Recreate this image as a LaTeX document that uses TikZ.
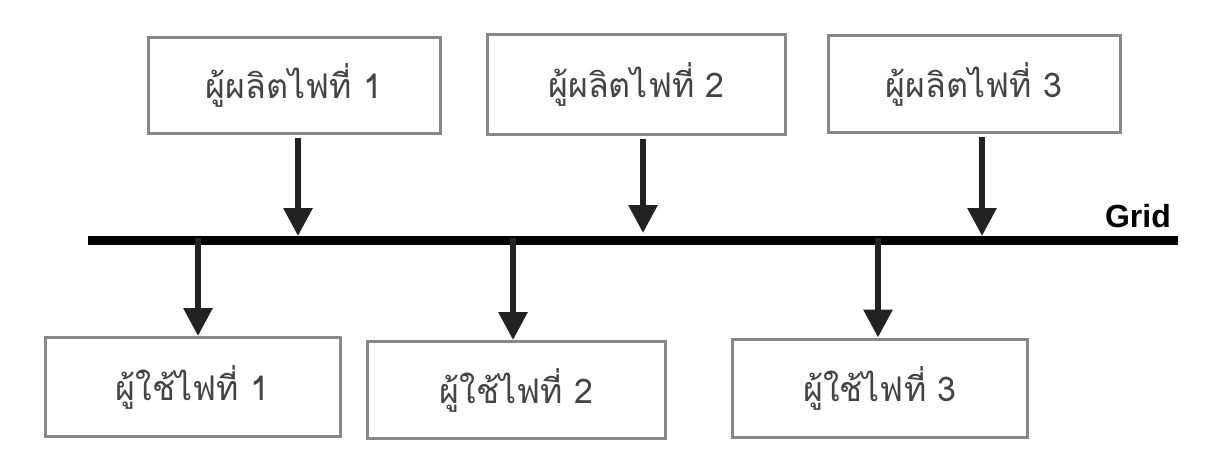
\documentclass[tikz,border=0pt]{standalone}
\usepackage{fontspec}
\setmainfont{Liberation Sans}
\newfontfamily\thaifont[Script=Thai]{Loma}
\usetikzlibrary{arrows.meta}
\definecolor{boxgray}{HTML}{888888}
\definecolor{txtgray}{HTML}{444444}
\definecolor{arrdark}{HTML}{222222}
\begin{document}
\begin{tikzpicture}[x=1pt,y=-1pt,
  box/.style={draw=boxgray,line width=3pt,fill=white,inner sep=0pt,
    font=\thaifont\fontsize{34}{40}\selectfont,text=txtgray},
  arr/.style={draw=arrdark,line width=6pt,-{Triangle[width=28pt,length=28pt]}},
  gridline/.style={draw=black,line width=9pt}]
\useasboundingbox[fill=white] (0,0) rectangle (1222,472);
% producers
\node[box,minimum width=292pt,minimum height=96pt] (p1) at (294,85) {ผู้ผลิตไฟที่ 1};
\node[box,minimum width=298pt,minimum height=100pt] (p2) at (636.5,84.5) {ผู้ผลิตไฟที่ 2};
\node[box,minimum width=292pt,minimum height=97pt] (p3) at (974,84) {ผู้ผลิตไฟที่ 3};
% consumers
\node[box,minimum width=295pt,minimum height=99pt] (c1) at (192.5,387) {ผู้ใช้ไฟที่ 1};
\node[box,minimum width=298pt,minimum height=97pt] (c2) at (516.5,390) {ผู้ใช้ไฟที่ 2};
\node[box,minimum width=295pt,minimum height=98pt] (c3) at (880,388) {ผู้ใช้ไฟที่ 3};
% grid
\coordinate (gl) at (88,240);
\coordinate (gr) at (1178,240);
\draw[gridline] (gl) -- (gr);
\node[font=\bfseries\fontsize{32}{38}\selectfont,anchor=base east,inner sep=0pt] (grid) at (1171,227) {Grid};
% producer arrows
\coordinate (t1) at (298,236);
\coordinate (t2) at (643,233);
\coordinate (t3) at (982,236);
\draw[arr,shorten <=3pt] (p1.south -| t1) -- (t1);
\draw[arr,shorten <=3pt] (p2.south -| t2) -- (t2);
\draw[arr,shorten <=3pt] (p3.south -| t3) -- (t3);
% consumer arrows
\coordinate (s1) at (198,238);
\coordinate (s2) at (513,238);
\coordinate (s3) at (878,238);
\draw[arr] (s1) -- (s1 |- c1.north);
\draw[arr] (s2) -- (s2 |- c2.north);
\draw[arr] (s3) -- (s3 |- c3.north);
\end{tikzpicture}
\end{document}
